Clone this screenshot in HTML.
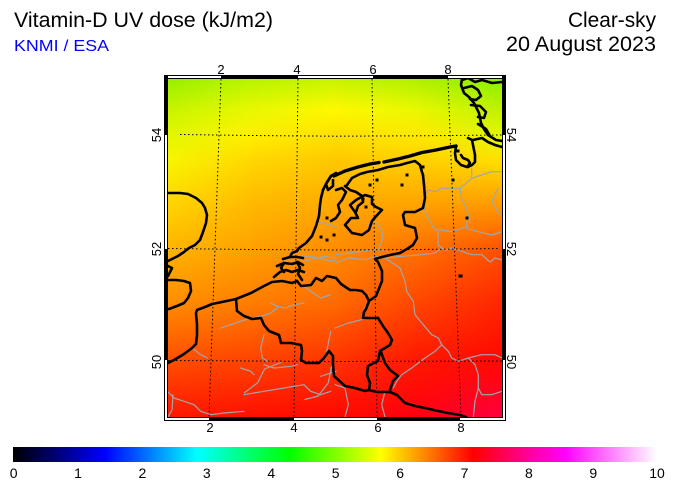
<!DOCTYPE html>
<html><head><meta charset="utf-8"><style>
html,body{margin:0;padding:0;background:#fff;width:675px;height:490px;overflow:hidden}
svg{display:block;font-family:"Liberation Sans",Arial,sans-serif}
</style></head><body>
<svg width="675" height="490" viewBox="0 0 675 490" xmlns="http://www.w3.org/2000/svg">
<defs>
<clipPath id="mc"><rect x="168" y="79" width="334" height="338"/></clipPath>
<linearGradient id="c0" gradientUnits="userSpaceOnUse" x1="0" y1="79" x2="0" y2="417">
<stop offset="0" stop-color="#98f000"/><stop offset="0.092" stop-color="#c8f400"/><stop offset="0.166" stop-color="#e2f800"/><stop offset="0.24" stop-color="#f8f600"/><stop offset="0.358" stop-color="#ffd800"/><stop offset="0.506" stop-color="#ffb400"/><stop offset="0.654" stop-color="#ff9000"/><stop offset="0.831" stop-color="#ff5000"/><stop offset="1" stop-color="#ff1800"/></linearGradient>
<linearGradient id="c1" gradientUnits="userSpaceOnUse" x1="0" y1="79" x2="0" y2="417">
<stop offset="0" stop-color="#b8f400"/><stop offset="0.092" stop-color="#e8f800"/><stop offset="0.166" stop-color="#fff000"/><stop offset="0.24" stop-color="#ffd800"/><stop offset="0.358" stop-color="#ffbc00"/><stop offset="0.506" stop-color="#ffa000"/><stop offset="0.654" stop-color="#ff8000"/><stop offset="0.831" stop-color="#ff4400"/><stop offset="1" stop-color="#ff1000"/></linearGradient>
<linearGradient id="c2" gradientUnits="userSpaceOnUse" x1="0" y1="79" x2="0" y2="417">
<stop offset="0" stop-color="#c8f400"/><stop offset="0.092" stop-color="#fff800"/><stop offset="0.166" stop-color="#ffe000"/><stop offset="0.24" stop-color="#ffc800"/><stop offset="0.358" stop-color="#ffac00"/><stop offset="0.506" stop-color="#ff8c00"/><stop offset="0.654" stop-color="#ff6c00"/><stop offset="0.831" stop-color="#ff3400"/><stop offset="1" stop-color="#ff0800"/></linearGradient>
<linearGradient id="c3" gradientUnits="userSpaceOnUse" x1="0" y1="79" x2="0" y2="417">
<stop offset="0" stop-color="#b0f000"/><stop offset="0.092" stop-color="#e8f800"/><stop offset="0.166" stop-color="#ffe800"/><stop offset="0.24" stop-color="#ffd000"/><stop offset="0.358" stop-color="#ffa800"/><stop offset="0.506" stop-color="#ff7000"/><stop offset="0.654" stop-color="#ff4800"/><stop offset="0.831" stop-color="#ff1800"/><stop offset="1" stop-color="#ff0010"/></linearGradient>
<linearGradient id="c4" gradientUnits="userSpaceOnUse" x1="0" y1="79" x2="0" y2="417">
<stop offset="0" stop-color="#88f000"/><stop offset="0.092" stop-color="#c0f000"/><stop offset="0.166" stop-color="#e0f800"/><stop offset="0.24" stop-color="#ffe000"/><stop offset="0.358" stop-color="#ffa000"/><stop offset="0.506" stop-color="#ff5000"/><stop offset="0.654" stop-color="#ff2800"/><stop offset="0.831" stop-color="#ff0800"/><stop offset="1" stop-color="#ff0040"/></linearGradient>
<linearGradient id="r0" gradientUnits="userSpaceOnUse" x1="168" y1="0" x2="251" y2="0"><stop offset="0" stop-color="#fff" stop-opacity="0"/><stop offset="1" stop-color="#fff" stop-opacity="1"/></linearGradient>
<linearGradient id="r1" gradientUnits="userSpaceOnUse" x1="251" y1="0" x2="335" y2="0"><stop offset="0" stop-color="#fff" stop-opacity="0"/><stop offset="1" stop-color="#fff" stop-opacity="1"/></linearGradient>
<linearGradient id="r2" gradientUnits="userSpaceOnUse" x1="335" y1="0" x2="418" y2="0"><stop offset="0" stop-color="#fff" stop-opacity="0"/><stop offset="1" stop-color="#fff" stop-opacity="1"/></linearGradient>
<linearGradient id="r3" gradientUnits="userSpaceOnUse" x1="418" y1="0" x2="502" y2="0"><stop offset="0" stop-color="#fff" stop-opacity="0"/><stop offset="1" stop-color="#fff" stop-opacity="1"/></linearGradient>
<mask id="m0" maskUnits="userSpaceOnUse" x="160" y="70" width="360" height="360" style="mask-type:alpha"><rect x="168" y="79" width="83" height="338" fill="url(#r0)"/></mask>
<mask id="m1" maskUnits="userSpaceOnUse" x="160" y="70" width="360" height="360" style="mask-type:alpha"><rect x="251" y="79" width="84" height="338" fill="url(#r1)"/></mask>
<mask id="m2" maskUnits="userSpaceOnUse" x="160" y="70" width="360" height="360" style="mask-type:alpha"><rect x="335" y="79" width="83" height="338" fill="url(#r2)"/></mask>
<mask id="m3" maskUnits="userSpaceOnUse" x="160" y="70" width="360" height="360" style="mask-type:alpha"><rect x="418" y="79" width="84" height="338" fill="url(#r3)"/></mask>
<linearGradient id="cb" x1="0" y1="0" x2="1" y2="0">
<stop offset="0" stop-color="#000000"/><stop offset="0.142857" stop-color="#0000ff"/><stop offset="0.285714" stop-color="#00ffff"/><stop offset="0.428571" stop-color="#00ff00"/><stop offset="0.571429" stop-color="#ffff00"/><stop offset="0.714286" stop-color="#ff0000"/><stop offset="0.857143" stop-color="#ff00ff"/><stop offset="1" stop-color="#ffffff"/></linearGradient>
</defs>

<!-- titles -->
<text x="14" y="27" font-size="21" fill="#000" textLength="259" lengthAdjust="spacingAndGlyphs">Vitamin-D UV dose (kJ/m2)</text>
<text x="14" y="51" font-size="16" fill="#0000ff" textLength="95" lengthAdjust="spacingAndGlyphs">KNMI / ESA</text>
<text x="656" y="27" font-size="21" fill="#000" text-anchor="end" textLength="88" lengthAdjust="spacingAndGlyphs">Clear-sky</text>
<text x="656" y="51" font-size="21" fill="#000" text-anchor="end" textLength="150" lengthAdjust="spacingAndGlyphs">20 August 2023</text>

<!-- field -->
<g shape-rendering="crispEdges">
<rect x="168" y="79" width="83" height="338" fill="url(#c0)"/>
<rect x="168" y="79" width="83" height="338" fill="url(#c1)" mask="url(#m0)"/>
<rect x="251" y="79" width="84" height="338" fill="url(#c1)"/>
<rect x="251" y="79" width="84" height="338" fill="url(#c2)" mask="url(#m1)"/>
<rect x="335" y="79" width="83" height="338" fill="url(#c2)"/>
<rect x="335" y="79" width="83" height="338" fill="url(#c3)" mask="url(#m2)"/>
<rect x="418" y="79" width="84" height="338" fill="url(#c3)"/>
<rect x="418" y="79" width="84" height="338" fill="url(#c4)" mask="url(#m3)"/>
</g>

<g clip-path="url(#mc)" fill="none" stroke-linejoin="round" stroke-linecap="round">
<!-- gray lines -->
<g stroke="#a2a6a8" stroke-width="1.2">
<polyline points="471.7,168.3 471.7,178.3 460,188.3 441.7,188.3 435,191.7 428.3,190 425,195 425,211.7 430,221.7 435,230 441.7,230 451.7,231.7 461.7,228.3 466.7,226.7 466.7,221.7"/>
<polyline points="471.7,178.3 481.7,175 491.7,171.7 502,171.7"/>
<polyline points="460,188.3 461.7,198.3 466.7,208.3 470,221.7"/>
<polyline points="498,188 492,202 498,212 502,215"/>
<polyline points="466.7,228.3 478.3,231.7 491.7,235 502,231.7"/>
<polyline points="438,232 438,245 445,250 451.7,248 461.7,251.3 471.7,254.7 481.7,254.7 490,262 495,258 502,260"/>
<polyline points="368,225 377,223 382,232 383,238 378,250"/>
<polyline points="335,254.7 348.3,253 361.7,251.3 373.3,249.7 385,250"/>
<polyline points="335,263 348.3,258 365,259.7 375,256.3 385,258"/>
<polyline points="284,261.3 304,261.3 324,256.3 336,258"/>
<polyline points="300,256 315,257 330,261 335,260"/>
<polyline points="385,258 401.7,256.3 421.7,254.7 435,253 441.7,248"/>
<polyline points="385,258 400,268 405,281.3 406.7,291.3 413.3,301.3 415,314.7 423.3,324.7 431.7,334.7 438.3,338 441.7,344.7 435,351.3 425,358 418.3,363 411.7,368 401.7,374.7 396.7,381.3 393.3,388"/>
<polyline points="441.7,344.7 448.3,351.3 451.7,358 458.3,361.3 468.3,358 481.7,354.7 495,354.7 502,358"/>
<polyline points="468.3,358 475,364.7 478.3,374.7 478.3,388 481.7,394.7 491.7,394.7 502,391.3"/>
<polyline points="478.3,388 475,401.3 473.3,417"/>
<polyline points="335,328 348.3,323 361.7,319.7 368.3,318"/>
<polyline points="335,384.7 345,388 348.3,404.7 345,417"/>
<polyline points="385,391.3 381.7,404.7 385,417"/>
<polyline points="270.7,303 277.3,306.3 285.7,308 294,304.7 304,303"/>
<polyline points="220.7,328 230.7,324.7 240.7,321.3 250.7,318 260.7,316.3 270.7,313 277.3,308"/>
<polyline points="264,334.7 260.7,348 262.3,358 267.3,361.3"/>
<polyline points="240.7,368 250.7,371.3 254,374.7"/>
<polyline points="264,364.7 274,368 290.7,366.3 297.3,364.7"/>
<polyline points="167.3,391.3 174,398 184,401.3 194,404.7 200.7,411.3 210.7,414.7 224,413 244,411.3"/>
<polyline points="244,394.7 264,391.3 284,388 304,384.7 310.7,391.3 320.7,394.7 330.7,391.3"/>
<polyline points="192.3,348 200.7,354.7 207.3,358"/>
<polyline points="304,286.3 310.7,291.3 320.7,298 330.7,294.7"/>
<polyline points="330.7,331.3 327.3,348 325.7,358"/>
<polyline points="320.7,376.3 336,371.3"/>
<polyline points="281,362.5 264.5,369 257.7,382.7 244.3,392.8"/>
<polyline points="331.7,365.9 328.3,382.7 318.2,396 304.8,399.5"/>
<polyline points="173,395 172,410 168,417"/>
<polyline points="319,221.7 336,226.7"/>
<polyline points="368.3,298 366.7,304.7 363.3,311.3"/>
</g>

<!-- grid -->
<g stroke="#000" stroke-width="1" stroke-dasharray="1.5 2.5" stroke-linecap="butt">
<polyline points="180,134.5 250,135.5 335,136.2 420,135.8 502,135"/>
<polyline points="168,248.5 250,249.5 335,250 420,249.5 498,248.5"/>
<polyline points="168,360.5 335,361.5 502,361"/>
<line x1="221" y1="79" x2="209" y2="417"/>
<line x1="298" y1="79" x2="294" y2="417"/>
<line x1="372" y1="79" x2="377" y2="417"/>
<line x1="448" y1="79" x2="461" y2="417"/>
</g>

<!-- coastlines / borders -->
<g stroke="#000" stroke-width="2.6">
<polyline points="168,193 180,193 188,194 196,198 202,203 205,208 207,215 206,223 203,232 200,240 195,245 189,248 184,252 178,256 172,259 168,261"/>
<polyline points="168,266 172,268 170,272 168,276"/>
<polyline points="168,280 176,280 184,281 190,283 191,291 188,298 184,303 177,306 169,309 168,309"/>
<polyline points="168,363 174,360 184,354 192,348 196,344 197,335 197,325 196,313 197,310 205,307 212,304 222,302 236,299 251,293 264,286 272,282 282,281 292,283 297,281"/>
<polyline points="274,277 280,272 286,270 292,272 298,270 304,272"/>
<polyline points="277,266 284,263 292,264 298,262 303,265"/>
<polyline points="283,259 290,257 297,257 303,258"/>
<polyline points="290,257 292,253 297,251"/>
<polyline points="284,263 281,268 284,272"/>
<polyline points="297,262 300,268 298,274 302,280"/>
<polyline points="297,251 299,248 306,243 312,236 316,226 319,216 320,205 321,198 323,190 327,182 331,176 336,173"/>
<polyline points="331,176 326,184 328,190 333,186 333,180"/>
<polyline points="347,185 352,178 360,174 367,172 378,170 388,167 400,165 407,163 415,161 420,165 422,172 423,175"/>
<polyline points="423,175 424,185 425,198 423,208 415,212 405,212 403,215 405,225 415,228 417,238 413,245 407,249 400,253 390,255 382,257 375,259 378,262 382,271 382,281 378,291 376,296 369,301 366,309 364,312 363,318 370,318 378,318"/>
<polyline points="297,281 301,286 311,285 316,278 322,281 327,276 336,278 341,284 350,290 356,290 362,291 366,295 369,301"/>
<polyline points="378,318 383,326 388,333 392,340 390,345 385,348 380,351 378,361 368,366 367,375 370,383 369,390 377,392 390,392"/>
<polyline points="381,352 385,363 390,370 398,376 393,381 390,390 390,392"/>
<polyline points="390,392 397,395 405,403 415,406 425,408 438,411 448,413 460,415 466,417"/>
<polyline points="236,299 237,311 244,316 252,319 261,318 264,325 269,331 279,335 281,343 291,343 301,345 302,351 301,360 306,363 319,363 324,358 329,351 333,356 333,365 334,376 345,386 355,388 365,391 369,390"/>
<polyline points="336,190 342,188 346,192 342,200 338,205 340,212 336,218 331,221"/>
<polyline points="345,186 350,190 356,192 362,196 363,202 358,206 356,212"/>
<polyline points="345,225 352,233 362,235 369,230 372,221 379,213 382,210 376,207 372,204 372,197 365,195 356,200 350,205 355,212 358,218 351,218 345,225"/>
<polyline points="456,146 455,153 456,160 461,165 467,167 470,163 468,160 463,158 461,155"/>
<polyline points="468,138 472,140 473,145 475,155 475,162 472,165 468,167"/>
<polyline points="473,140 482,138 488,142 495,145 502,147"/>
<polyline points="462,79 461,85 464,93 469,97 474,103 479,113 481,123 484,129 488,135 496,140 502,141"/>
<polyline points="462,80 468,78 475,82 482,80 492,83 502,82"/>
<polyline points="464,88 472,86 478,90 481,96 476,100 470,99"/>
<polyline points="471,105 480,106 486,112 484,118 478,117"/>
<polyline points="478,124 486,129 490,136"/>
</g>
<g stroke="#000" stroke-width="3.4">
<polyline points="334,176 345,171 358,167 370,164 379,162.5"/>
<polyline points="384,162 398,159 410,156 422,152.5 436,150 450,147 456,146"/>
</g>
<g fill="#000">
<rect x="368.5" y="183.5" width="3" height="3"/><rect x="375.5" y="178.5" width="3" height="3"/>
<rect x="400.5" y="183.5" width="3" height="3"/><rect x="405.5" y="173.5" width="3" height="3"/>
<rect x="421.5" y="165.5" width="3" height="3"/><rect x="456.5" y="149.5" width="3" height="3"/>
<rect x="451.5" y="178.5" width="3" height="3"/><rect x="465.5" y="216.5" width="3" height="3"/>
<rect x="458.5" y="274.5" width="4" height="3"/><rect x="325.5" y="216.5" width="3" height="3"/>
<rect x="319.5" y="235.5" width="3" height="3"/><rect x="325.5" y="238.5" width="3" height="3"/>
<rect x="332.5" y="233.5" width="3" height="3"/><rect x="364.5" y="205.5" width="3" height="3"/>
<rect x="361.5" y="197.5" width="3" height="3"/>
</g>
</g>

<!-- frame -->
<g shape-rendering="crispEdges">
<rect x="164" y="75" width="342" height="4" fill="#fff"/>
<rect x="164" y="417" width="342" height="4" fill="#fff"/>
<rect x="164" y="75" width="4" height="346" fill="#fff"/>
<rect x="502" y="75" width="4" height="346" fill="#fff"/>
<rect x="221" y="75" width="77" height="4" fill="#000"/>
<rect x="373" y="75" width="75" height="4" fill="#000"/>
<rect x="209" y="417" width="85" height="4" fill="#000"/>
<rect x="377" y="417" width="83" height="4" fill="#000"/>
<rect x="164" y="75" width="4" height="60" fill="#000"/>
<rect x="164" y="249" width="4" height="111" fill="#000"/>
<rect x="502" y="75" width="4" height="60" fill="#000"/>
<rect x="502" y="249" width="4" height="111" fill="#000"/>
<rect x="164.5" y="75.5" width="341" height="345" fill="none" stroke="#000" stroke-width="1"/>
<rect x="167.5" y="78.5" width="335" height="339" fill="none" stroke="#000" stroke-width="1"/>
</g>

<!-- tick labels -->
<g font-size="13" fill="#000" text-anchor="middle">
<text x="221" y="74">2</text><text x="297" y="74">4</text><text x="373" y="74">6</text><text x="448" y="74">8</text>
<text x="210" y="432">2</text><text x="294" y="432">4</text><text x="378" y="432">6</text><text x="461" y="432">8</text>
<text transform="translate(161,135) rotate(-90)">54</text>
<text transform="translate(161,249) rotate(-90)">52</text>
<text transform="translate(161,362) rotate(-90)">50</text>
<text transform="translate(507,135) rotate(90)">54</text>
<text transform="translate(507,249) rotate(90)">52</text>
<text transform="translate(507,362) rotate(90)">50</text>
</g>

<!-- colorbar -->
<rect x="13" y="447" width="644" height="15" fill="url(#cb)" shape-rendering="crispEdges"/>
<g font-size="14" fill="#000" text-anchor="middle">
<text x="13.7" y="478">0</text><text x="78" y="478">1</text><text x="142.4" y="478">2</text><text x="206.8" y="478">3</text><text x="271.3" y="478">4</text><text x="335.7" y="478">5</text><text x="400.1" y="478">6</text><text x="464.5" y="478">7</text><text x="528.9" y="478">8</text><text x="593.3" y="478">9</text><text x="657" y="478">10</text>
</g>
</svg>
</body></html>
